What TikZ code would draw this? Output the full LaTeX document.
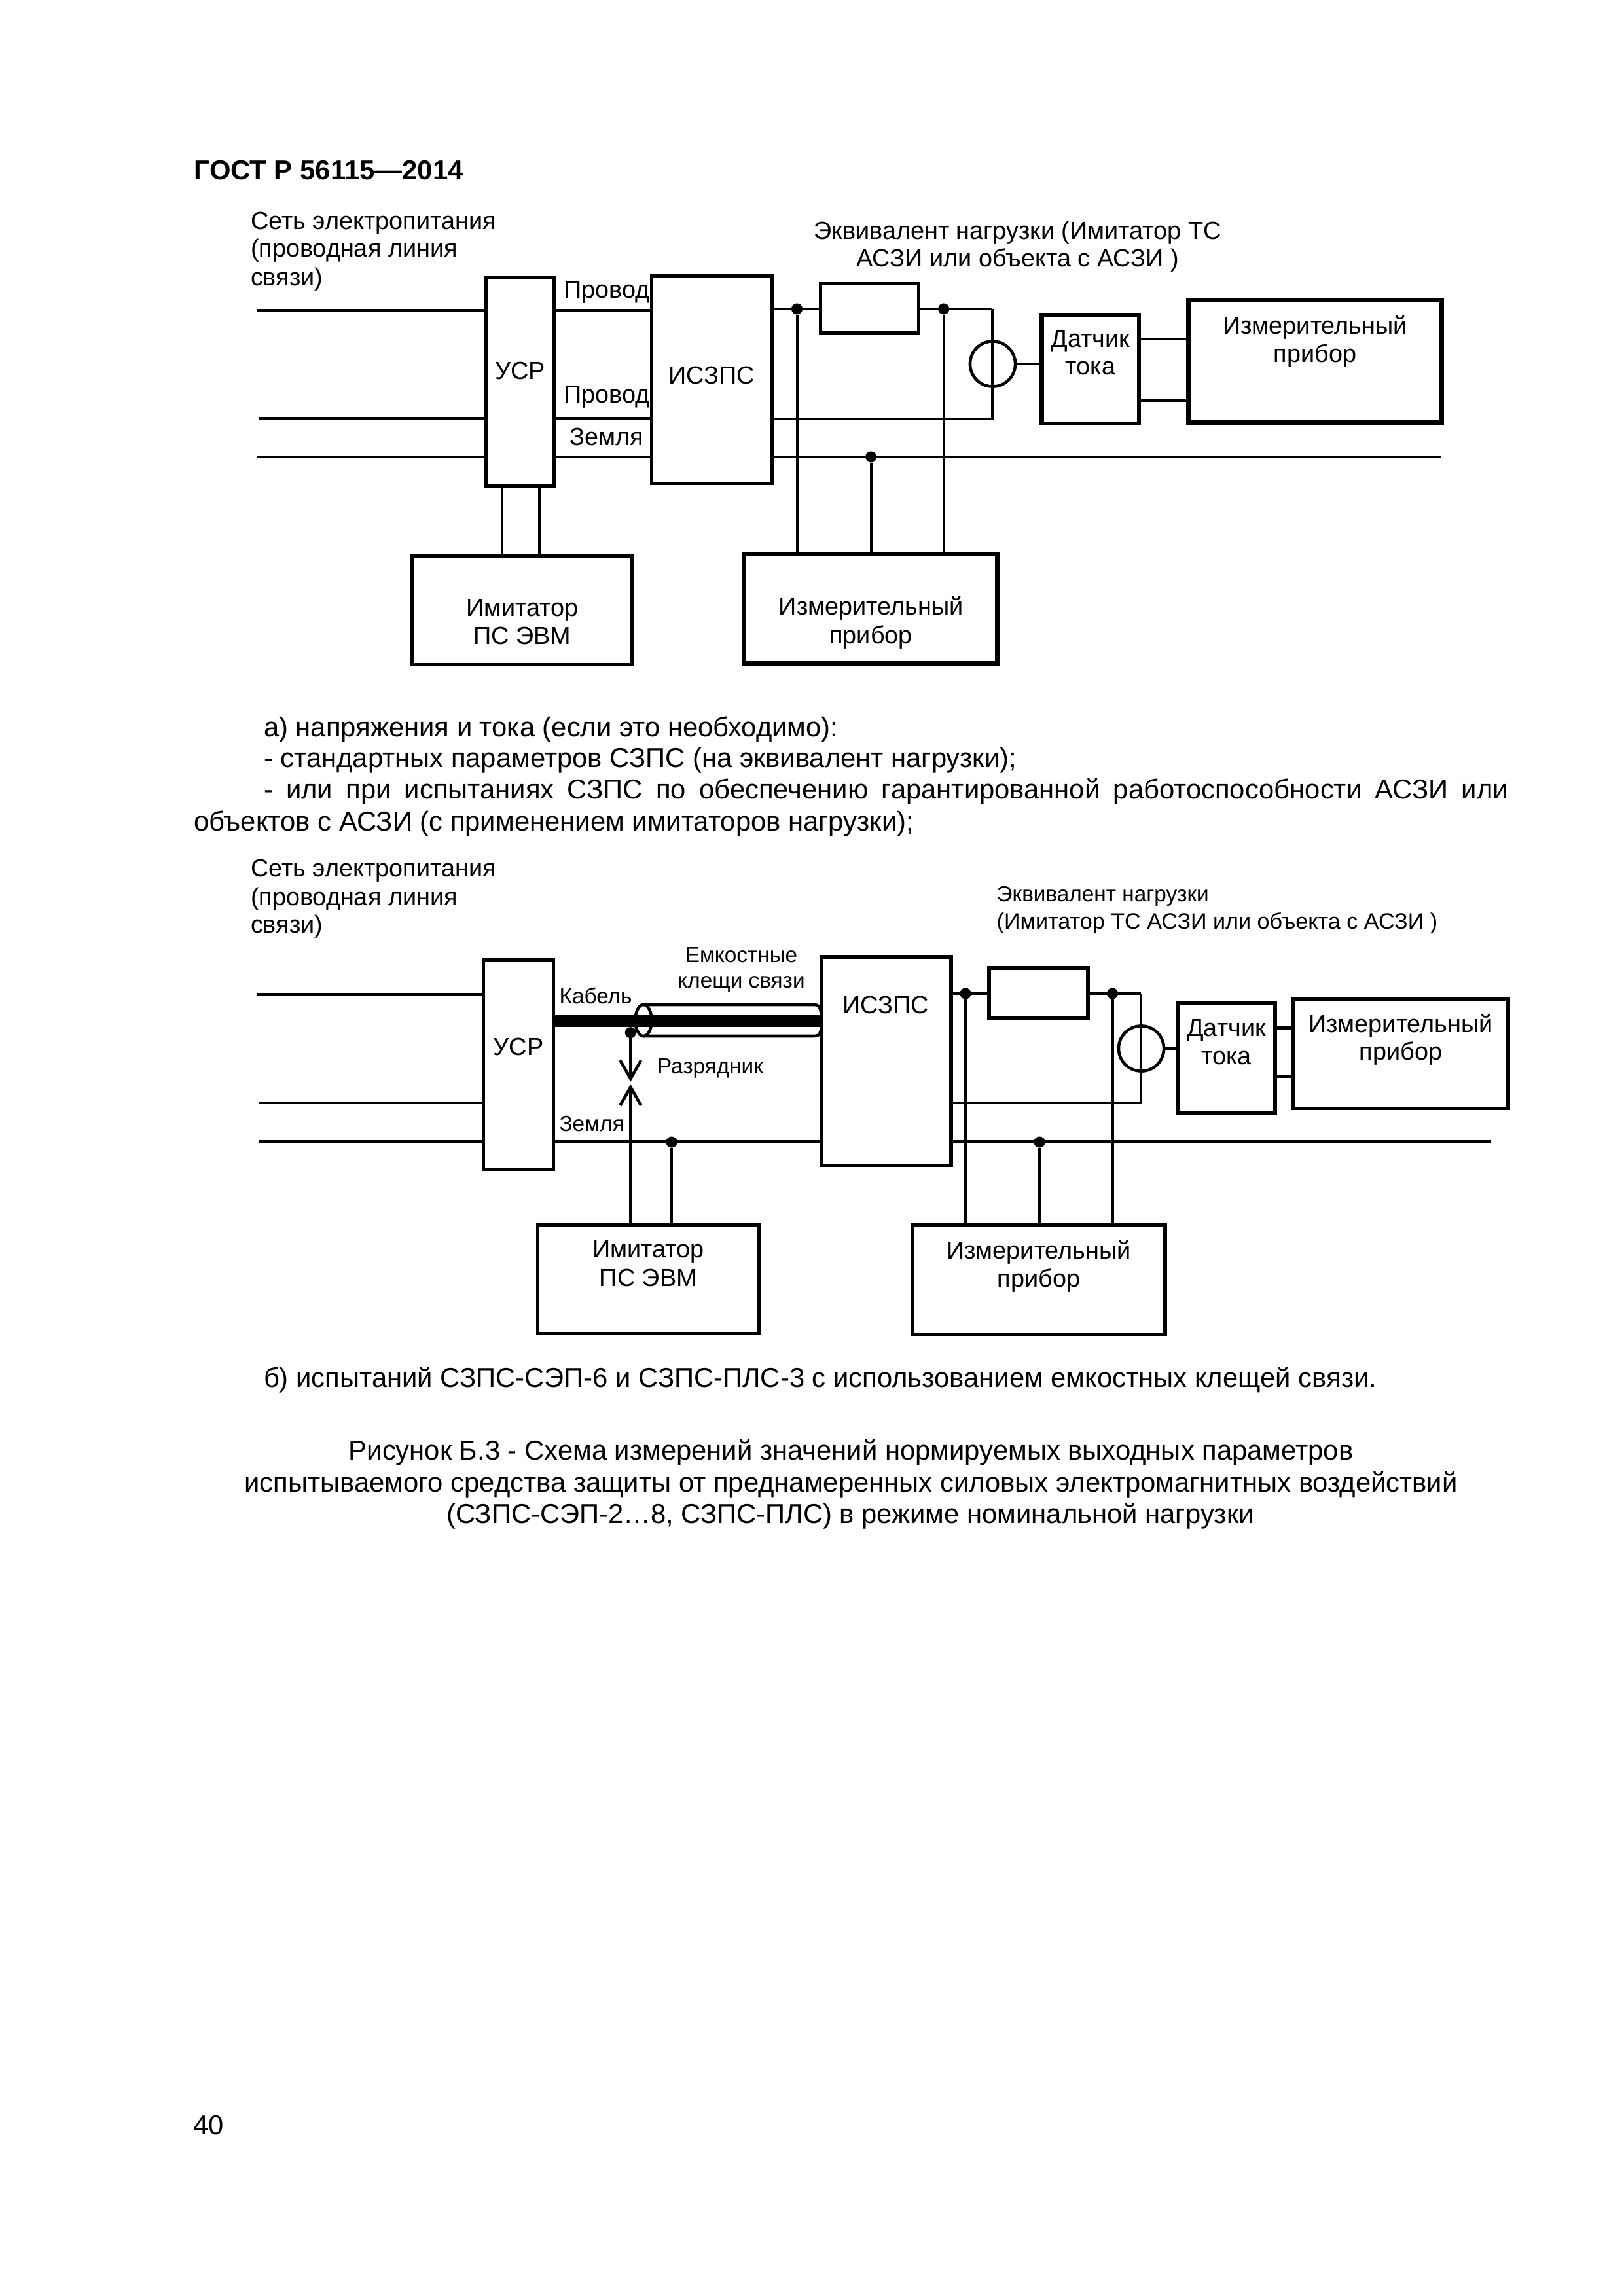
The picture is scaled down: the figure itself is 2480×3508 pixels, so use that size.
\documentclass[tikz,border=0pt]{standalone}
\usepackage{fontspec}
\setmainfont{Liberation Sans}
\usetikzlibrary{fit,calc,shapes.geometric}
\tikzset{
  x=0.24pt,y=-0.24pt,
  boxa/.style={draw,line width=1.25pt,inner sep=0pt,outer sep=0pt,fill=none},
  boxb/.style={draw,line width=1.55pt,inner sep=0pt,outer sep=0pt,fill=none},
  wire/.style={line width=1.1pt},
  thinw/.style={line width=0.95pt},
  heavy/.style={line width=4.5pt},
  dot/.style={circle,fill=black,inner sep=0pt,outer sep=0pt,minimum size=4.1pt},
  sensor/.style={circle,draw,line width=1.1pt,inner sep=0pt,outer sep=0pt,minimum size=16.6pt},
  lab/.style={anchor=base west,inner sep=0pt,outer sep=0pt,yshift=-0.48pt,font=\fontsize{9.08}{11}\selectfont},
  labc/.style={anchor=base,inner sep=0pt,outer sep=0pt,yshift=-0.48pt,font=\fontsize{9.08}{11}\selectfont},
  small/.style={anchor=base west,inner sep=0pt,outer sep=0pt,font=\fontsize{8}{10}\selectfont},
  smallc/.style={anchor=base,inner sep=0pt,outer sep=0pt,font=\fontsize{8}{10}\selectfont},
  body/.style={anchor=base west,inner sep=0pt,outer sep=0pt,font=\fontsize{10.03}{12}\selectfont},
  bodyc/.style={anchor=base,inner sep=0pt,outer sep=0pt,font=\fontsize{10.03}{12}\selectfont},
}
\begin{document}
\begin{tikzpicture}
\fill[white] (0,0) rectangle (2480,3508);
\useasboundingbox (0,0) rectangle (2480,3508);
\node[anchor=base west,inner sep=0pt,font=\fontsize{10.05}{12}\selectfont\bfseries] (head) at (296,275) {ГОСТ Р 56115—2014};

% ---------- diagram a ----------
\node[lab] (a1) at (383,349) {Сеть электропитания};
\node[lab] (a2) at (383,391) {(проводная линия};
\node[lab] (a3) at (383,435) {связи)};
\node[labc] (a4) at (1554.6,363.6) {Эквивалент нагрузки (Имитатор ТС};
\node[labc] (a5) at (1554.6,406) {АСЗИ или объекта с АСЗИ )};

\node[boxa,fit={(742.4,424)(847,742)}] (usrA) {};
\node[boxa,fit={(995.5,421.5)(1179,738.6)}] (iszA) {};
\node[boxa,fit={(629.5,849.6)(966,1015.5)}] (imA) {};
\node[boxb,fit={(1136.5,846.7)(1523.4,1013.6)}] (izA) {};
\node[boxa,fit={(1253.6,433.4)(1403.6,509)}] (resA) {};
\node[boxb,fit={(1591.7,480.8)(1740,647)}] (datA) {};
\node[boxb,fit={(1815.4,458.8)(2202.4,645.3)}] (bigA) {};

\coordinate (wa1) at (391.6,474.6);
\coordinate (wa2) at (395,639.6);
\coordinate (wa3) at (392,698);
\coordinate (wa4) at (2202,698);
\draw[wire] (wa1) -- (wa1 -| usrA.west);
\draw[wire] (wa2) -- (wa2 -| usrA.west);
\draw[wire] (wa3) -- (wa3 -| usrA.west);
\draw[wire] (wa1 -| usrA.east) -- (wa1 -| iszA.west);
\draw[wire] (wa2 -| usrA.east) -- (wa2 -| iszA.west);
\draw[wire] (wa3 -| usrA.east) -- (wa3 -| iszA.west);
\draw[wire] (wa3 -| iszA.east) -- (wa4);

\coordinate (ua) at (766.6,800);
\coordinate (ub) at (824,800);
\draw[thinw] (ua |- usrA.south) -- (ua |- imA.north);
\draw[thinw] (ub |- usrA.south) -- (ub |- imA.north);

\node[dot] (na1) at (1217.5,472) {};
\node[dot] (na2) at (1441.7,472) {};
\node[dot] (na3) at (1330.6,698) {};
\coordinate (ca) at (1516,472);
\coordinate (cb) at (1516,639.6);
\draw[wire] (na1 -| iszA.east) -- (resA.west |- na1);
\draw[wire] (resA.east |- na1) -- (ca);
\draw[thinw] (ca) -- (cb) -- (cb -| iszA.east);
\draw[thinw] (na1) -- (na1 |- izA.north);
\draw[thinw] (na2) -- (na2 |- izA.north);
\draw[thinw] (na3) -- (na3 |- izA.north);
\node[sensor] (senA) at (1516.5,556) {};
\draw[wire] (senA.east) -- (senA.east -| datA.west);
\coordinate (da) at (1780,518);
\coordinate (db) at (1780,611.4);
\draw[wire] (da -| datA.east) -- (da -| bigA.west);
\draw[wire] (db -| datA.east) -- (db -| bigA.west);

\node[lab] (p1) at (861.6,453.4) {Провод};
\node[lab] (p2) at (861.6,613.7) {Провод};
\node[labc] (p3) at (927,679) {Земля};
\node[labc] (p4) at (794.7,577.4) {УСР};
\node[labc] (p5) at (1087,584.6) {ИСЗПС};
\node[labc] (p6) at (798,940) {Имитатор};
\node[labc] (p7) at (798,983) {ПС ЭВМ};
\node[labc] (p8) at (1330.6,938) {Измерительный};
\node[labc] (p9) at (1330.6,982) {прибор};
\node[labc] (p10) at (1666,528.5) {Датчик};
\node[labc] (p11) at (1666,570.6) {тока};
\node[labc] (p12) at (2009,509) {Измерительный};
\node[labc] (p13) at (2009,552) {прибор};

% ---------- paragraph ----------
\node[body] (t1) at (403,1125) {а) напряжения и тока (если это необходимо):};
\node[body] (t2) at (403,1172) {- стандартных параметров СЗПС (на эквивалент нагрузки);};
\node[body] (t3) at (403,1220) {\makebox[456.2pt][s]{- или при испытаниях СЗПС по обеспечению гарантированной работоспособности АСЗИ или}};
\node[body] (t4) at (296,1269) {объектов с АСЗИ (с применением имитаторов нагрузки);};

% ---------- diagram b ----------
\node[lab] (b1) at (383,1337.7) {Сеть электропитания};
\node[lab] (b2) at (383,1381) {(проводная линия};
\node[lab] (b3) at (383,1423) {связи)};
\node[small] (b4) at (1522.7,1377) {Эквивалент нагрузки};
\node[small,font=\fontsize{8.19}{10}\selectfont] (b5) at (1522.7,1419) {(Имитатор ТС АСЗИ или объекта с АСЗИ )};

\node[boxa,fit={(738.5,1467)(845.7,1786.5)}] (usrB) {};
\node[boxa,fit={(1255,1462)(1453,1780.6)}] (iszB) {};
\node[boxa,fit={(821.5,1871)(1159,2037.7)}] (imB) {};
\node[boxa,fit={(1393.6,1871.5)(1780,2039)}] (izB) {};
\node[boxa,fit={(1511,1479)(1662,1555)}] (resB) {};
\node[boxa,fit={(1799,1533)(1948,1700)}] (datB) {};
\node[boxa,fit={(1976,1526)(2304,1693.5)}] (bigB) {};

\coordinate (wb1) at (393,1518.8);
\coordinate (wb2) at (395,1685);
\coordinate (wb3) at (395,1744);
\coordinate (wb4) at (2278,1744);
\coordinate (wbc) at (900,1560);
\draw[wire] (wb1) -- (wb1 -| usrB.west);
\draw[wire] (wb2) -- (wb2 -| usrB.west);
\draw[wire] (wb3) -- (wb3 -| usrB.west);
\draw[wire] (wb3 -| usrB.east) -- (wb3 -| iszB.west);
\draw[wire] (wb3 -| iszB.east) -- (wb4);

% capacitive clamp
\coordinate (tl) at (983,1535);
\coordinate (tr) at (1243,1535);
\coordinate (bl) at (983,1583);
\coordinate (br) at (1243,1583);
\draw[wire] (tl) -- (tr) .. controls +(9,0) and +(0,-20) .. (iszB.west |- wbc);
\draw[wire] (bl) -- (br) .. controls +(9,0) and +(0,20) .. (iszB.west |- wbc);
\node[draw,ellipse,line width=1.1pt,minimum width=6pt,minimum height=11.6pt,inner sep=0pt,outer sep=0pt] (clamp) at (983,1559) {};
\draw[heavy] (wbc -| usrB.east) -- (wbc -| iszB.west);

% arrester
\node[dot] (nb1) at (963.3,1577.7) {};
\coordinate (tipa) at (963.3,1648);
\coordinate (tipb) at (963.3,1661);
\draw[thinw] (nb1) -- (tipa);
\draw[thinw] (tipb) -- (tipb |- imB.north);
\draw[wire] ($(tipa)+(-16,-28)$) -- (tipa) -- ($(tipa)+(16,-28)$);
\draw[wire] ($(tipb)+(-16,28)$) -- (tipb) -- ($(tipb)+(16,28)$);

\node[dot] (nb2) at (1026,1745) {};
\draw[thinw] (nb2) -- (nb2 |- imB.north);

\node[dot] (nb3) at (1475,1518) {};
\node[dot] (nb4) at (1699.5,1518) {};
\node[dot] (nb5) at (1588,1745) {};
\coordinate (cc) at (1742.7,1518);
\coordinate (cd) at (1742.7,1685.4);
\draw[wire] (nb3 -| iszB.east) -- (resB.west |- nb3);
\draw[wire] (resB.east |- nb3) -- (cc);
\draw[thinw] (cc) -- (cd) -- (cd -| iszB.east);
\draw[thinw] (nb3) -- (nb3 |- izB.north);
\draw[thinw] (nb4) -- (nb4 |- izB.north);
\draw[thinw] (nb5) -- (nb5 |- izB.north);
\node[sensor] (senB) at (1743.5,1602) {};
\draw[wire] (senB.east) -- (senB.east -| datB.west);
\coordinate (dc) at (1960,1570.6);
\coordinate (dd) at (1960,1645);
\draw[wire] (dc -| datB.east) -- (dc -| bigB.west);
\draw[wire] (dd -| datB.east) -- (dd -| bigB.west);

\node[small] (q1) at (854.6,1533.7) {Кабель};
\node[small] (q2) at (854.6,1728) {Земля};
\node[small] (q3) at (1004,1640.7) {Разрядник};
\node[smallc] (q4) at (1132.5,1470.6) {Емкостные};
\node[smallc] (q5) at (1132.5,1509) {клещи связи};
\node[labc] (q6) at (792,1610) {УСР};
\node[labc] (q7) at (1353.5,1546.6) {ИСЗПС};
\node[labc] (q8) at (990.4,1919) {Имитатор};
\node[labc] (q9) at (990.4,1963) {ПС ЭВМ};
\node[labc] (q10) at (1587,1921) {Измерительный};
\node[labc] (q11) at (1587,1964) {прибор};
\node[labc] (q12) at (1873.5,1581.6) {Датчик};
\node[labc] (q13) at (1873.5,1624) {тока};
\node[labc] (q14) at (2140,1575) {Измерительный};
\node[labc] (q15) at (2140,1617.5) {прибор};

% ---------- captions ----------
\node[body] (c1) at (403,2119) {б) испытаний СЗПС-СЭП-6 и СЗПС-ПЛС-3 с использованием емкостных клещей связи.};
\node[bodyc] (c2) at (1300,2230) {Рисунок Б.3 - Схема измерений значений нормируемых выходных параметров};
\node[bodyc] (c3) at (1300,2279) {испытываемого средства защиты от преднамеренных силовых электромагнитных воздействий};
\node[bodyc] (c4) at (1299,2327) {(СЗПС-СЭП-2…8, СЗПС-ПЛС) в режиме номинальной нагрузки};
\node[body] (pg) at (295,3261) {40};
\end{tikzpicture}
\end{document}
